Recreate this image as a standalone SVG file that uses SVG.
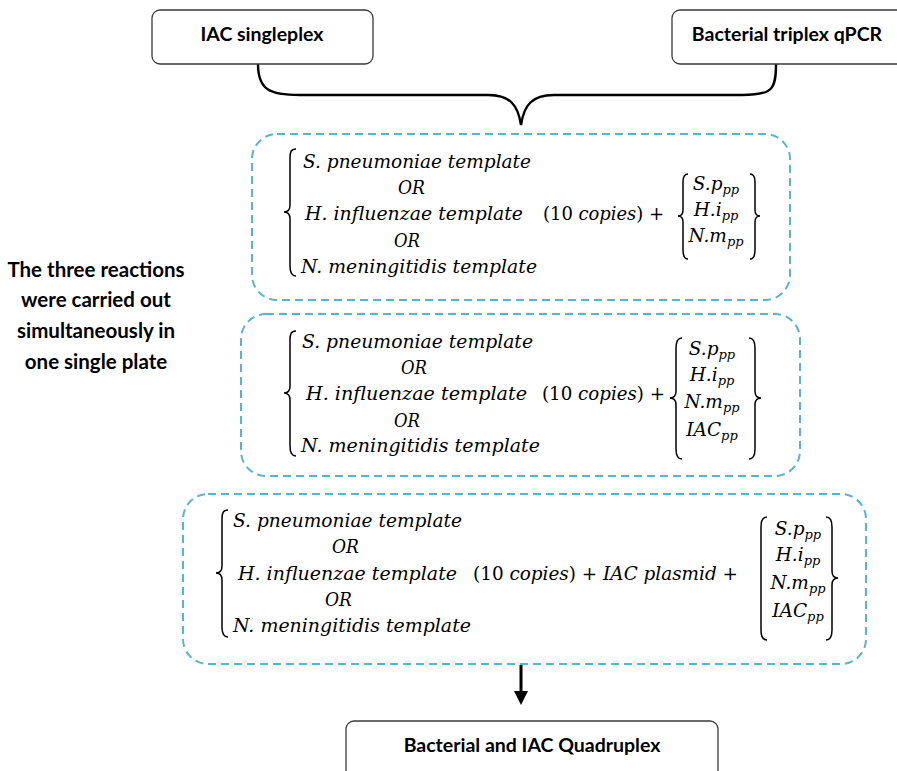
<svg xmlns="http://www.w3.org/2000/svg" width="897" height="771" viewBox="0 0 897 771">
<style>
.box{fill:#fff;stroke:#3a3a3a;stroke-width:1.3}
.dash{fill:none;stroke:#5ab4cc;stroke-width:2;stroke-dasharray:8 5}
.lbl{font-family:Lato,"Liberation Sans",sans-serif;font-weight:700;font-size:19.5px;fill:#000}
.note{font-size:20.5px}
.m{font-family:"DejaVu Serif","Liberation Serif",serif;font-style:italic;font-size:18.5px;fill:#000}
.up{font-style:normal}
.sub{font-size:13px}
.br{fill:none;stroke:#000;stroke-width:1.5}
.con{fill:none;stroke:#000;stroke-width:2.4}
</style>
<rect width="897" height="771" fill="#fff"/>
<g id="connectors">
<path class="con" d="M258,64 C258,90 270,95 300,95 L488,95 C510,95 518,105 521,125 C524,105 532,95 554,95 L742,95 C772,95 776,90 776,64"/>
<line x1="521" y1="665" x2="521" y2="692" stroke="#000" stroke-width="3"/>
<polygon points="514,691 528,691 521,705" fill="#000"/>
</g>
<g id="iac-singleplex">
<rect class="box" x="152" y="10" width="221" height="54" rx="8"/>
<text class="lbl" x="262" y="41" text-anchor="middle">IAC singleplex</text>
</g>
<g id="bacterial-triplex">
<rect class="box" x="672" y="10" width="240" height="54" rx="8"/>
<text class="lbl" x="787" y="41" text-anchor="middle">Bacterial triplex qPCR</text>
</g>
<g id="note">
<text class="lbl note" x="96" y="277" text-anchor="middle">The three reactions</text>
<text class="lbl note" x="96" y="307" text-anchor="middle">were carried out</text>
<text class="lbl note" x="96" y="338" text-anchor="middle">simultaneously in</text>
<text class="lbl note" x="96" y="369" text-anchor="middle">one single plate</text>
</g>
<g id="reaction1">
<rect class="dash" x="252" y="134" width="538" height="166" rx="25"/>
<path class="br" d="M296,149 C291,149 290,152 290,158 L290,205 C290,210 288,212 284,212 C288,212 290,214 290,219 L290,266 C290,272 291,276 296,276"/>
<text class="m" x="303" y="168" textLength="228" lengthAdjust="spacingAndGlyphs">S.  pneumoniae template</text>
<text class="m" x="398" y="194" textLength="27" lengthAdjust="spacingAndGlyphs">OR</text>
<text class="m" x="305" y="220" textLength="218" lengthAdjust="spacingAndGlyphs">H.  influenzae template</text>
<text class="m" x="394" y="247" textLength="26" lengthAdjust="spacingAndGlyphs">OR</text>
<text class="m" x="301" y="273" textLength="236" lengthAdjust="spacingAndGlyphs">N.  meningitidis template</text>
<text class="m" x="543" y="220" textLength="121" lengthAdjust="spacingAndGlyphs"><tspan class="up">(10 </tspan>copies<tspan class="up">) +</tspan></text>
<path class="br" d="M688,174 C684,174 683,177 683,182 L683,210 C683,214 681,216 678,216 C681,216 683,218 683,222 L683,250 C683,255 684,259 688,259"/>
<path class="br" d="M750,174 C754,174 755,177 755,182 L755,210 C755,214 757,216 760,216 C757,216 755,218 755,222 L755,250 C755,255 754,259 750,259"/>
<text class="m" x="716" y="190" text-anchor="middle">S.p<tspan class="sub" dy="4">pp</tspan></text>
<text class="m" x="716" y="216" text-anchor="middle">H.i<tspan class="sub" dy="4">pp</tspan></text>
<text class="m" x="716" y="242" text-anchor="middle">N.m<tspan class="sub" dy="4">pp</tspan></text>
</g>
<g id="reaction2">
<rect class="dash" x="241" y="314" width="559" height="162" rx="25"/>
<path class="br" d="M296,331 C291,331 290,334 290,340 L290,386 C290,391 288,393 284,393 C288,393 290,395 290,400 L290,446 C290,452 291,456 296,456"/>
<text class="m" x="302" y="348" textLength="231" lengthAdjust="spacingAndGlyphs">S.  pneumoniae template</text>
<text class="m" x="401" y="374" textLength="26" lengthAdjust="spacingAndGlyphs">OR</text>
<text class="m" x="306" y="400" textLength="221" lengthAdjust="spacingAndGlyphs">H.  influenzae template</text>
<text class="m" x="394" y="427" textLength="26" lengthAdjust="spacingAndGlyphs">OR</text>
<text class="m" x="301" y="452" textLength="239" lengthAdjust="spacingAndGlyphs">N.  meningitidis template</text>
<text class="m" x="542" y="400" textLength="123" lengthAdjust="spacingAndGlyphs"><tspan class="up">(10 </tspan>copies<tspan class="up">) +</tspan></text>
<path class="br" d="M682,338 C677,338 676,342 676,348 L676,391 C676,395 674,398 670,398 C674,398 676,401 676,405 L676,449 C676,455 677,459 682,459"/>
<path class="br" d="M749,338 C754,338 755,342 755,348 L755,391 C755,395 757,398 761,398 C757,398 755,401 755,405 L755,449 C755,455 754,459 749,459"/>
<text class="m" x="712" y="355" text-anchor="middle">S.p<tspan class="sub" dy="4">pp</tspan></text>
<text class="m" x="712" y="381" text-anchor="middle">H.i<tspan class="sub" dy="4">pp</tspan></text>
<text class="m" x="712" y="408" text-anchor="middle">N.m<tspan class="sub" dy="4">pp</tspan></text>
<text class="m" x="712" y="436" text-anchor="middle">IAC<tspan class="sub" dy="4">pp</tspan></text>
</g>
<g id="reaction3">
<rect class="dash" x="183" y="494" width="683" height="170" rx="25"/>
<path class="br" d="M228,510 C223,510 222,513 222,519 L222,566 C222,571 220,573 216,573 C220,573 222,575 222,580 L222,627 C222,633 223,637 228,637"/>
<text class="m" x="233" y="527" textLength="229" lengthAdjust="spacingAndGlyphs">S.  pneumoniae template</text>
<text class="m" x="332" y="553" textLength="27" lengthAdjust="spacingAndGlyphs">OR</text>
<text class="m" x="238" y="580" textLength="219" lengthAdjust="spacingAndGlyphs">H.  influenzae template</text>
<text class="m" x="325" y="606" textLength="27" lengthAdjust="spacingAndGlyphs">OR</text>
<text class="m" x="233" y="632" textLength="238" lengthAdjust="spacingAndGlyphs">N.  meningitidis template</text>
<text class="m" x="473" y="580" textLength="265" lengthAdjust="spacingAndGlyphs"><tspan class="up">(10 </tspan>copies<tspan class="up">) + </tspan>IAC plasmid<tspan class="up">  +</tspan></text>
<path class="br" d="M767,517 C762,517 761,521 761,527 L761,630 C761,636 762,640 767,640"/>
<path class="br" d="M826,517 C831,517 832,521 832,527 L832,571 C832,575 834,578 838,578 C834,578 832,581 832,585 L832,630 C832,636 831,640 826,640"/>
<text class="m" x="798" y="535" text-anchor="middle">S.p<tspan class="sub" dy="4">pp</tspan></text>
<text class="m" x="798" y="561" text-anchor="middle">H.i<tspan class="sub" dy="4">pp</tspan></text>
<text class="m" x="798" y="589" text-anchor="middle">N.m<tspan class="sub" dy="4">pp</tspan></text>
<text class="m" x="798" y="617" text-anchor="middle">IAC<tspan class="sub" dy="4">pp</tspan></text>
</g>
<g id="quadruplex">
<rect class="box" x="346" y="721" width="372" height="70" rx="8"/>
<text class="lbl" x="532" y="752" text-anchor="middle">Bacterial and IAC Quadruplex</text>
</g>
</svg>
